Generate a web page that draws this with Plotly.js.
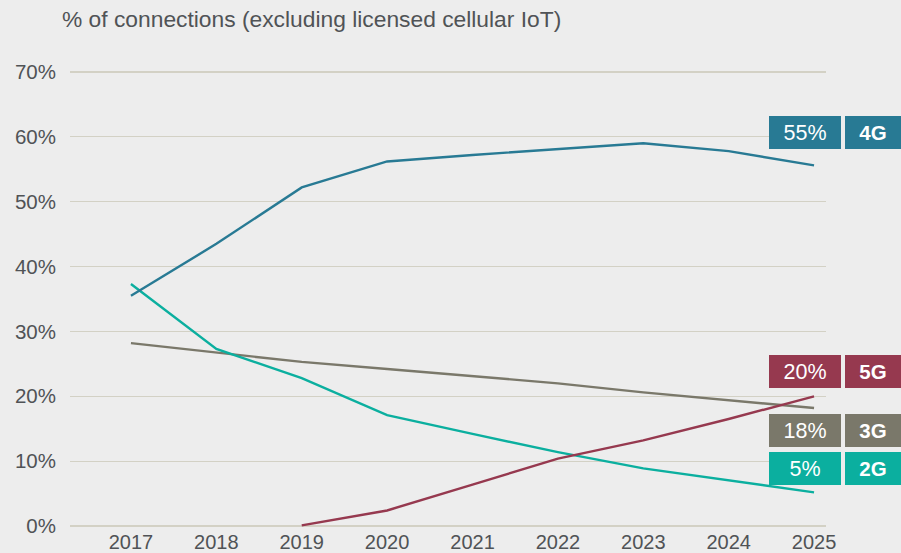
<!DOCTYPE html>
<html>
<head>
<meta charset="utf-8">
<script src="https://cdn.plot.ly/plotly-3.0.1.min.js"></script>
<style>
html,body{margin:0;padding:0;background:#EDEDED;}
#chart{width:901px;height:553px;}
</style>
</head>
<body>
<div id="chart"></div>
<script>
// ---- data ----
const years = [2017, 2018, 2019, 2020, 2021, 2022, 2023, 2024, 2025];
const years5G = [2019, 2020, 2021, 2022, 2023, 2024, 2025];
const values4G = [35.5, 43.5, 52.2, 56.2, 57.2, 58.1, 59.0, 57.8, 55.6];
const values3G = [28.2, 26.8, 25.3, 24.2, 23.1, 22.0, 20.6, 19.4, 18.2];
const values2G = [37.3, 27.3, 22.8, 17.1, 14.2, 11.4, 8.9, 7.1, 5.2];
const values5G = [0.1, 2.4, 6.4, 10.4, 13.2, 16.5, 20.0];
const seriesNames = ['4G', '5G', '3G', '2G'];
const endLabels = ['55%', '20%', '18%', '5%'];
const yTicks = [0, 10, 20, 30, 40, 50, 60, 70];
const titleText = '% of connections (excluding licensed cellular IoT)';

// ---- styles ----
const colors = {'4G': '#287A94', '5G': '#96394F', '3G': '#7A786A', '2G': '#0BAF9F'};
const labelY = {'4G': 60.67, '5G': 23.9, '3G': 14.75, '2G': 8.94};
const textColor = '#505356';
const font = 'Liberation Sans, Arial, Helvetica, sans-serif';

function line(x, y, name) {
  return {x: x, y: y, name: name, type: 'scatter', mode: 'lines',
          line: {color: colors[name], width: 2.4}, hoverinfo: 'skip', cliponaxis: false};
}
const traces = [
  line(years, values3G, '3G'),
  line(years, values2G, '2G'),
  line(years5G, values5G, '5G'),
  line(years, values4G, '4G')
];

const annotations = [];
seriesNames.forEach((s, i) => {
  annotations.push({xref: 'paper', yref: 'y', x: 0.9722, y: labelY[s], xanchor: 'center', yanchor: 'middle',
    text: endLabels[i], showarrow: false, bgcolor: colors[s], width: 72, height: 33, borderpad: 0, borderwidth: 0,
    font: {family: font, size: 21.5, color: '#FFFFFF'}});
  annotations.push({xref: 'paper', yref: 'y', x: 1.0622, y: labelY[s], xanchor: 'center', yanchor: 'middle',
    text: '<b>' + s + '</b>', showarrow: false, bgcolor: colors[s], width: 56, height: 33, borderpad: 0, borderwidth: 0,
    font: {family: font, size: 20.5, color: '#FFFFFF'}});
});

const layout = {
  width: 901, height: 553,
  margin: {l: 70, r: 75, t: 70, b: 25, pad: 0},
  paper_bgcolor: '#EDEDED', plot_bgcolor: '#EDEDED',
  showlegend: false,
  font: {family: font, color: textColor, size: 20.5},
  title: {text: titleText, x: 62 / 901, xanchor: 'left', xref: 'container', y: 1 - 19 / 553, yanchor: 'middle', yref: 'container',
          font: {family: font, size: 22.8, color: textColor}},
  xaxis: {range: [2016.286, 2025.14], tickmode: 'array', tickvals: years, ticktext: years.map(String),
          showgrid: false, zeroline: false, showline: false, ticks: '', ticklabelstandoff: 0,
          tickfont: {family: font, size: 20, color: textColor}, fixedrange: true},
  yaxis: {range: [-0.3, 70.3], tickmode: 'array', tickvals: yTicks, ticktext: yTicks.map(v => v + '%'),
          showgrid: true, gridcolor: '#D3D1C5', gridwidth: 1.3, zeroline: false, showline: false, ticks: '',
          ticklabelstandoff: 13, tickfont: {family: font, size: 20.5, color: textColor}, fixedrange: true},
  annotations: annotations
};

Plotly.newPlot('chart', traces, layout, {displayModeBar: false, staticPlot: true});
</script>
</body>
</html>
